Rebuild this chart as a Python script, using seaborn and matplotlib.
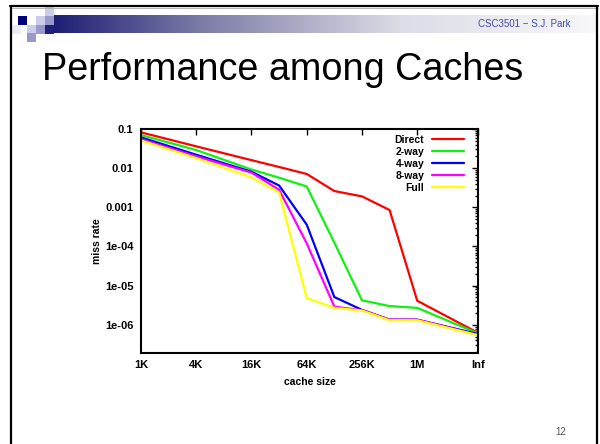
import numpy as np
import pandas as pd
import matplotlib
matplotlib.use('Agg')
import matplotlib.pyplot as plt
import seaborn as sns
from matplotlib.colors import LinearSegmentedColormap
from matplotlib.patches import Rectangle

# cache sizes in KB (Inf drawn at the right edge of the axis)
sizes_kb = [1, 4, 16, 32, 64, 128, 256, 512, 1024, np.inf]
inf_kb = 2 ** 12.2

# miss rates
direct = [0.082, 0.036, 0.016, 0.0107, 0.0071, 0.0026, 0.0019, 0.00085, 4.1e-6, 6.2e-7]
two_way = [0.07, 0.029, 0.0092, 0.0057, 0.0034, 1.25e-4, 4.2e-6, 3.0e-6, 2.7e-6, 6.0e-7]
four_way = [0.061, 0.022, 0.0081, 0.0036, 3.6e-4, 5.1e-6, 2.4e-6, 1.35e-6, 1.35e-6, 5.8e-7]
eight_way = [0.055, 0.020, 0.0077, 0.0028, 1.2e-4, 2.9e-6, 2.35e-6, 1.35e-6, 1.35e-6, 5.5e-7]
full = [0.051, 0.018, 0.0058, 0.0024, 4.8e-6, 2.7e-6, 2.3e-6, 1.3e-6, 1.3e-6, 5.4e-7]

series_names = ['Direct', '2-way', '4-way', '8-way', 'Full']
series_colors = ['#ff0000', '#11f011', '#0000ff', '#ff00ff', '#ffff00']

x_tick_kb = [1, 4, 16, 64, 256, 1024, np.inf]
x_tick_labels = ['1K', '4K', '16K', '64K', '256K', '1M', 'Inf']
y_tick_vals = [0.1, 0.01, 0.001, 1e-4, 1e-5, 1e-6]
y_tick_labels = ['0.1', '0.01', '0.001', '1e-04', '1e-05', '1e-06']

rows = []
for name, vals in zip(series_names, [direct, two_way, four_way, eight_way, full]):
    for s, v in zip(sizes_kb, vals):
        rows.append({'size': inf_kb if np.isinf(s) else s, 'miss': v, 'cache': name})
df = pd.DataFrame(rows)

sns.set_style('white')
plt.rcParams['font.family'] = ['Liberation Sans', 'DejaVu Sans']
plt.rcParams['text.color'] = 'black'
plt.rcParams['axes.labelcolor'] = 'black'
plt.rcParams['xtick.color'] = 'black'
plt.rcParams['ytick.color'] = 'black'

fig = plt.figure(figsize=(6, 4.44), dpi=100)

# slide decoration
bg = fig.add_axes([0, 0, 1, 1], zorder=-1)
bg.axis('off')
grad = LinearSegmentedColormap.from_list(
    'bar', [(0, '#1c1c74'), (0.27, '#7a7aa6'), (0.64, '#dcdce6'), (1, '#f8f8fa')])
bg.imshow(np.linspace(0, 1, 256)[None, :], cmap=grad, aspect='auto',
          extent=[50, 597, 33, 15])
squares = [(18, 16, '#000080'), (36, 16, '#ccccec'), (45, 16, '#9999cc'),
           (45, 7, '#ccccec'), (12, 25, '#ececf6'), (27, 25, '#ccccec'),
           (36, 25, '#9999cc'), (45, 25, '#20207a'), (27, 33, '#9999cc')]
for sx, sy, c in squares:
    bg.add_patch(Rectangle((sx, sy), 9, 9, color=c, lw=0))
bg.plot([10, 598], [6.5, 6.5], color='black', lw=1.6)
bg.plot([10, 598], [8.3, 8.3], color='#aaaaaa', lw=0.6)
bg.plot([11, 11], [6, 444], color='black', lw=1.6)
bg.plot([597, 597], [6, 444], color='black', lw=1.6)
bg.set_xlim(0, 600)
bg.set_ylim(444, 0)
bg.text(571, 24, 'CSC3501 \u2212 S.J. Park', color='#4848a8', fontsize=7,
        ha='right', va='center')
bg.text(42, 80, 'Performance among Caches', fontsize=27.2, ha='left',
        va='baseline', color='black')
bg.text(566, 432, '12', color='#555555', fontsize=7, ha='right', va='center')

# chart
ax = fig.add_axes([141 / 600, 1 - 353 / 444, 337 / 600, 224 / 444])
ax.set_facecolor('white')
sns.lineplot(data=df, x='size', y='miss', hue='cache', hue_order=series_names,
             palette=dict(zip(series_names, series_colors)), lw=1.6, ax=ax,
             sort=False)
ax.set_xscale('log', base=2)
ax.set_yscale('log')
ax.set_xlim(1, inf_kb)
ax.set_ylim(1.9e-7, 0.1)
ax.set_xticks([inf_kb if np.isinf(t) else t for t in x_tick_kb])
ax.set_xticklabels(x_tick_labels)
ax.xaxis.set_minor_locator(matplotlib.ticker.NullLocator())
ax.set_yticks(y_tick_vals)
ax.set_yticklabels(y_tick_labels)
ax.tick_params(which='both', direction='in', top=True, right=True, width=1,
               labelsize=8)
ax.tick_params(which='major', length=4)
ax.tick_params(which='minor', length=2.5)
ax.tick_params(axis='y', pad=5.5)
ax.tick_params(axis='x', pad=5)
for lab in ax.get_xticklabels() + ax.get_yticklabels():
    lab.set_fontweight('bold')
for sp in ax.spines.values():
    sp.set_linewidth(1.5)
    sp.set_color('black')
ax.set_xlabel('cache size', fontsize=7.5, fontweight='bold', labelpad=5)
ax.set_ylabel('miss rate', fontsize=7.5, fontweight='bold', labelpad=2)

handles, labels = ax.get_legend_handles_labels()
ax.legend(handles, labels, loc='upper right', bbox_to_anchor=(0.958, 0.975),
          frameon=False, markerfirst=False, borderpad=0, borderaxespad=0,
          handlelength=3.1, handletextpad=0.7, labelspacing=0.2,
          prop={'size': 7.5, 'weight': 'bold'})

fig.savefig('out.png', dpi=100)
